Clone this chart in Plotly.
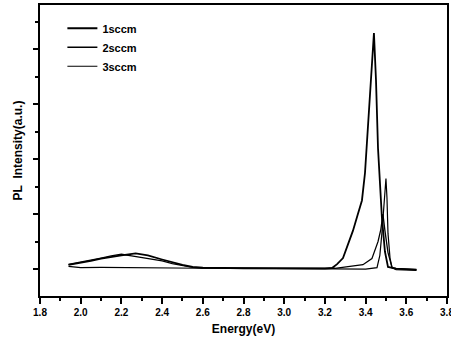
import plotly.graph_objects as go

# 1sccm
e1 = [1.94, 2.00, 2.05, 2.10, 2.15, 2.20, 2.27, 2.33, 2.40, 2.45, 2.50, 2.55, 2.60, 2.80, 3.00, 3.20, 3.235,
      3.26, 3.289, 3.31, 3.338, 3.36, 3.382, 3.397, 3.412, 3.431, 3.441, 3.451, 3.461, 3.48, 3.495, 3.51, 3.55, 3.60, 3.65]
v1 = [0.15, 0.22, 0.30, 0.38, 0.45, 0.50, 0.57, 0.50, 0.35, 0.25, 0.15, 0.08, 0.05, 0.03, 0.02, 0.02, 0.04,
      0.18, 0.40, 0.80, 1.40, 1.95, 2.50, 3.50, 5.30, 7.30, 8.60, 6.90, 4.40, 1.90, 0.64, 0.08, 0.02, 0.0, -0.02]
# 2sccm
e2 = [1.94, 2.00, 2.05, 2.10, 2.15, 2.20, 2.25, 2.30, 2.35, 2.40, 2.45, 2.50, 2.55, 2.60, 2.80, 3.00, 3.20, 3.25,
      3.323, 3.387, 3.431, 3.461, 3.475, 3.485, 3.495, 3.51, 3.53, 3.55, 3.60, 3.65]
v2 = [0.17, 0.25, 0.33, 0.40, 0.48, 0.54, 0.48, 0.42, 0.38, 0.30, 0.20, 0.12, 0.06, 0.04, 0.03, 0.02, 0.02, 0.03,
      0.10, 0.16, 0.38, 1.00, 1.45, 2.00, 1.40, 0.60, 0.05, 0.02, 0.0, -0.02]
# 3sccm
e3 = [1.94, 2.00, 2.10, 2.20, 2.30, 2.40, 2.50, 2.60, 2.80, 3.00, 3.20, 3.40, 3.456, 3.47, 3.48, 3.49, 3.50,
      3.505, 3.51, 3.52, 3.53, 3.55, 3.60, 3.65]
v3 = [0.10, 0.05, 0.06, 0.05, 0.06, 0.04, 0.04, 0.03, 0.03, 0.02, 0.0, 0.0, 0.05, 0.50, 1.30, 2.40, 3.30,
      2.60, 1.30, 0.40, 0.05, -0.02, -0.03, -0.05]

series = [("1sccm", e1, v1, 1.8), ("2sccm", e2, v2, 1.3), ("3sccm", e3, v3, 1.2)]

fig = go.Figure()
for name, x, y, w in series:
    fig.add_trace(go.Scatter(x=x, y=y, mode="lines", name=name,
                             line=dict(color="black", width=w)))

fig.update_layout(
    width=451, height=345,
    margin=dict(l=40, r=4, t=5, b=49, autoexpand=False),
    paper_bgcolor="white", plot_bgcolor="white",
    font=dict(family="Liberation Sans, Arial, sans-serif", color="black"),
    showlegend=True,
    legend=dict(x=0.055, y=0.97, xanchor="left", yanchor="top",
                bgcolor="rgba(0,0,0,0)", borderwidth=0,
                font=dict(size=11, family="Liberation Sans, Arial, sans-serif", weight="bold"),
                tracegroupgap=0, itemwidth=30),
    xaxis=dict(range=[1.8, 3.8], tickmode="linear", tick0=1.8, dtick=0.2, tickformat=".1f",
               ticks="outside", ticklen=6, tickwidth=2, tickcolor="black", automargin=False,
               ticklabeloverflow="allow",
               minor=dict(dtick=0.1, ticks="outside", ticklen=3, tickwidth=2, tickcolor="black"),
               showline=True, linewidth=2, linecolor="black", mirror=True, showgrid=False, zeroline=False,
               tickfont=dict(size=10, weight="bold"),
               title=dict(text="Energy(eV)", font=dict(size=12, weight="bold"), standoff=8)),
    yaxis=dict(range=[-0.98, 9.62], tickmode="linear", tick0=0, dtick=2, showticklabels=False,
               ticks="outside", ticklen=5, tickwidth=2, tickcolor="black", automargin=False,
               minor=dict(dtick=1, ticks="outside", ticklen=3, tickwidth=2, tickcolor="black"),
               showline=True, linewidth=2, linecolor="black", mirror=True, showgrid=False, zeroline=False,
               title=dict(text="PL  Intensity(a.u.)", font=dict(size=12, weight="bold"), standoff=8)),
)

fig.write_html("out.html")
